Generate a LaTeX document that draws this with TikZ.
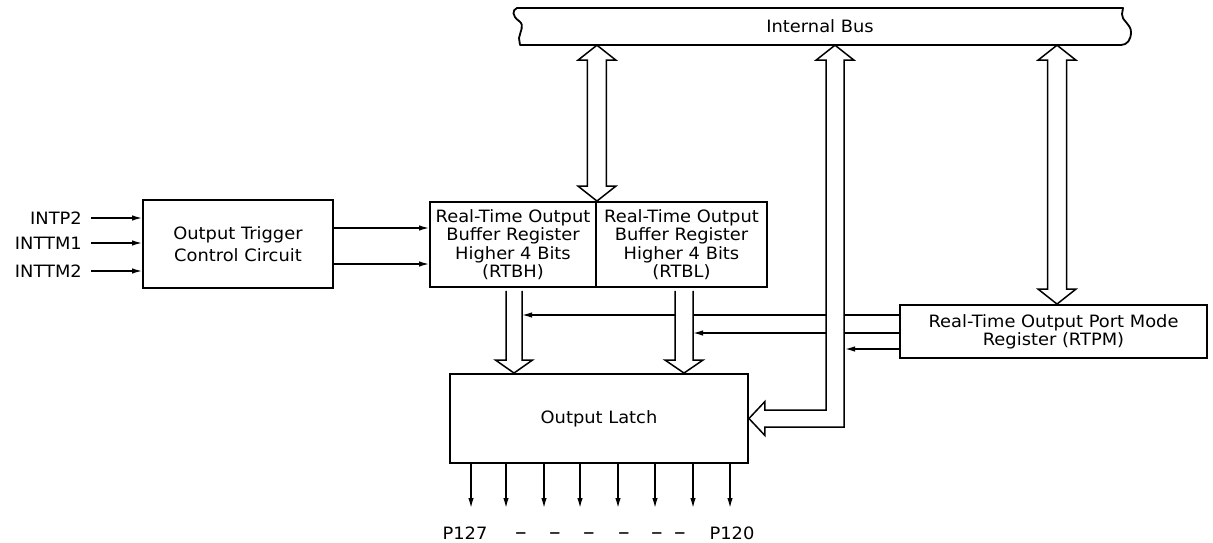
\documentclass[tikz,border=0pt]{standalone}
\usepackage{fontspec}
\setmainfont{DejaVu Sans}[FakeStretch=1.05]
\usetikzlibrary{arrows.meta,calc}
\begin{document}
\begin{tikzpicture}[x=1pt,y=-1pt,
  box/.style={draw, line width=1.9pt, inner sep=0pt, align=center, font=\fontsize{17}{18.5}\selectfont},
  sig/.style={line width=1.4pt, -{Latex[length=10pt,width=5.5pt]}},
  hollow/.style={draw, line width=1.5pt, fill=white, line join=miter},
  lbl/.style={font=\fontsize{17}{20}\selectfont, inner sep=0pt}]
\useasboundingbox (0,0) rectangle (1213,543);

% ---- nodes
\node[inner sep=0pt, minimum width=606pt, minimum height=37pt, font=\fontsize{17}{20}\selectfont] (bus) at (820,26.5) {Internal Bus};
\node[box, minimum width=190pt, minimum height=88pt, font=\fontsize{17}{22}\selectfont] (trig) at (238,244) {Output Trigger\\Control Circuit};
\node[box, minimum width=166pt, minimum height=85pt] (rtbh) at (513,244.5) {Real-Time Output\\Buffer Register\\Higher 4 Bits\\(RTBH)};
\node[box, minimum width=171pt, minimum height=85pt] (rtbl) at (681.5,244.5) {Real-Time Output\\Buffer Register\\Higher 4 Bits\\(RTBL)};
\node[box, minimum width=307pt, minimum height=53pt, font=\fontsize{17}{18}\selectfont] (rtpm) at (1053.5,331.5) {Real-Time Output Port Mode\\Register (RTPM)};
\node[box, minimum width=298pt, minimum height=89pt] (latch) at (599,418.5) {Output Latch};

% ---- bus outline
\draw[line width=1.8pt, line join=round]
  (517,8) -- (1123,8) -- (1122,14) .. controls (1121,20) and (1131,24) .. (1131,32)
  .. controls (1131,40) and (1127,45) .. (1121,45) -- (520,45) -- (519,38)
  .. controls (520,32) and (525,25) .. (519,21) .. controls (512,16) and (512,10) .. (517,8) -- cycle;

% ---- input signals
\node[lbl, anchor=east] (l1) at (82,218) {INTP2};
\node[lbl, anchor=east] (l2) at (82,243) {INTTM1};
\node[lbl, anchor=east] (l3) at (82,271) {INTTM2};
\foreach \n in {l1,l2,l3}
  \draw[sig] ($(\n.east)+(9,0)$) -- (\n -| trig.west);

% ---- trigger to RTBH
\coordinate (c1) at (0,228);
\coordinate (c2) at (0,264);
\draw[sig] (trig.east |- c1) -- (rtbh.west |- c1);
\draw[sig] (trig.east |- c2) -- (rtbh.west |- c2);

% ---- RTPM control lines
\coordinate (m1) at (0,315);
\coordinate (m2) at (0,333);
\coordinate (m3) at (0,349);
\coordinate (t1) at (522,315);
\coordinate (t2) at (693,333);
\coordinate (t3) at (845,349);
\draw[sig] (rtpm.west |- m1) -- (t1);
\draw[sig] (rtpm.west |- m2) -- (t2);
\draw[sig] (rtpm.west |- m3) -- (t3);

% ---- output lines
\foreach \x [count=\i] in {471,506,544,580,618,655,693,730} {
  \coordinate (o\i) at (\x,508);
  \draw[sig] (latch.south -| o\i) -- (o\i);
}
\node[lbl, anchor=base] (p127) at (465,539) {P127};
\foreach \x [count=\i] in {521,555,589,624,657,680}
  \node[lbl, anchor=base, font=\fontsize{22}{24}\selectfont] (d\i) at (\x,539) {–};
\node[lbl, anchor=base] (p120) at (732,539) {P120};

% ---- hollow arrows
% bus <-> RTBH/RTBL
\coordinate (a1t) at (rtbh.north east |- bus.south);
\draw[hollow] let \p1=(a1t), \p2=(rtbh.north east) in
  (\x1,\y1) -- (\x1+19pt,\y1-15pt) -- (\x1+9.5pt,\y1-15pt) -- (\x1+9.5pt,\y2+15pt)
  -- (\x1+19pt,\y2+15pt) -- (\x1,\y2) -- (\x1-19pt,\y2+15pt) -- (\x1-9.5pt,\y2+15pt)
  -- (\x1-9.5pt,\y1-15pt) -- (\x1-19pt,\y1-15pt) -- cycle;
% bus <-> RTPM
\coordinate (a3t) at ($(bus.south)+(237,0)$);
\coordinate (a3b) at (a3t |- rtpm.north);
\draw[hollow] let \p1=(a3t), \p2=(a3b) in
  (\x1,\y1) -- (\x1+19pt,\y1-15pt) -- (\x1+9.5pt,\y1-15pt) -- (\x1+9.5pt,\y2+15pt)
  -- (\x1+19pt,\y2+15pt) -- (\x1,\y2) -- (\x1-19pt,\y2+15pt) -- (\x1-9.5pt,\y2+15pt)
  -- (\x1-9.5pt,\y1-15pt) -- (\x1-19pt,\y1-15pt) -- cycle;
% bus <-> output latch
\coordinate (a2t) at ($(bus.south)+(15,0)$);
\draw[hollow] let \p1=(a2t), \p2=(latch.east) in
  (\x1,\y1) -- (\x1+19pt,\y1-15pt) -- (\x1+9pt,\y1-15pt) -- (\x1+9pt,\y2-8.5pt)
  -- (\x2+16pt,\y2-8.5pt) -- (\x2+16pt,\y2-17pt) -- (\x2,\y2) -- (\x2+16pt,\y2+17pt)
  -- (\x2+16pt,\y2+8.5pt) -- (\x1-9pt,\y2+8.5pt) -- (\x1-9pt,\y1-15pt) -- (\x1-19pt,\y1-15pt) -- cycle;
% RTBH -> latch
\coordinate (a4t) at ($(rtbh.south)+(1,3)$);
\coordinate (a4b) at (a4t |- latch.north);
\draw[hollow] let \p1=(a4t), \p2=(a4b) in
  (\x1-8pt,\y1) -- (\x1-8pt,\y2+13pt) -- (\x1-18.5pt,\y2+13pt) -- (\x1,\y2)
  -- (\x1+18.5pt,\y2+13pt) -- (\x1+8pt,\y2+13pt) -- (\x1+8pt,\y1);
% RTBL -> latch
\coordinate (a5t) at ($(rtbl.south)+(2.5,3)$);
\coordinate (a5b) at (a5t |- latch.north);
\draw[hollow] let \p1=(a5t), \p2=(a5b) in
  (\x1-9pt,\y1) -- (\x1-9pt,\y2+13pt) -- (\x1-19pt,\y2+13pt) -- (\x1,\y2)
  -- (\x1+19pt,\y2+13pt) -- (\x1+9pt,\y2+13pt) -- (\x1+9pt,\y1);
\end{tikzpicture}
\end{document}
